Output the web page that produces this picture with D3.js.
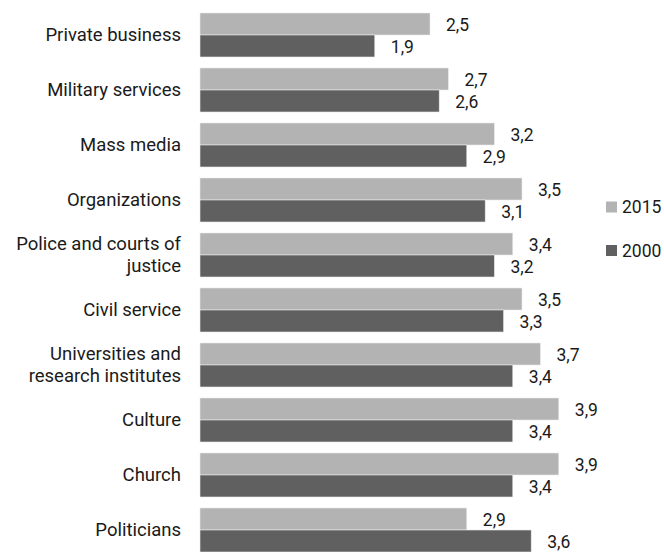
<!DOCTYPE html>
<html>
<head>
<meta charset="utf-8">
<script src="https://cdn.jsdelivr.net/npm/d3@7"></script>
<style>
  html, body { margin: 0; padding: 0; background: #fff; }
  svg text { font-family: Roboto, "Open Sans", sans-serif; fill: #1a1a1a; }
</style>
</head>
<body>
<svg id="chart" width="664" height="552"></svg>
<script>
// Trust scores by institution, two survey years
const categories = [
  "Private business",
  "Military services",
  "Mass media",
  "Organizations",
  "Police and courts of justice",
  "Civil service",
  "Universities and research institutes",
  "Culture",
  "Church",
  "Politicians"
];
const categoryLines = [
  ["Private business"],
  ["Military services"],
  ["Mass media"],
  ["Organizations"],
  ["Police and courts of", "justice"],
  ["Civil service"],
  ["Universities and", "research institutes"],
  ["Culture"],
  ["Church"],
  ["Politicians"]
];
const seriesNames = ["2015", "2000"];
const values2015 = [2.5, 2.7, 3.2, 3.5, 3.4, 3.5, 3.7, 3.9, 3.9, 2.9];
const values2000 = [1.9, 2.6, 2.9, 3.1, 3.2, 3.3, 3.4, 3.4, 3.4, 3.6];
const seriesColors = ["#b3b3b3", "#606060"];

const svg = d3.select("#chart");
const seriesValues = [values2015, values2000];
const labelSize = 18.5;
const numberSize = 17.5;

const x = d3.scaleLinear().domain([0, 1]).range([200, 292]);
const y = d3.scaleBand().domain(categories).range([7.5, 557.5])
  .paddingInner(0.2).paddingOuter(0.1);
const ySub = d3.scaleBand().domain(seriesNames).range([0, y.bandwidth()]);

const fmt = v => d3.format(".1f")(v).replace(".", ",");

const groups = svg.selectAll("g.cat")
  .data(categories)
  .join("g")
  .attr("class", "cat")
  .attr("transform", d => `translate(0,${y(d)})`);

seriesNames.forEach((s, si) => {
  groups.append("rect")
    .attr("x", x(0))
    .attr("y", ySub(s))
    .attr("width", (d, i) => x(seriesValues[si][i]) - x(0))
    .attr("height", ySub.bandwidth())
    .attr("fill", seriesColors[si])
    .attr("stroke", "#ececec")
    .attr("stroke-width", 0.6);

  groups.append("text")
    .attr("x", (d, i) => x(seriesValues[si][i]) + 16)
    .attr("y", ySub(s) + ySub.bandwidth() / 2 + 1)
    .attr("dy", "0.35em")
    .attr("font-size", numberSize)
    .text((d, i) => fmt(seriesValues[si][i]));
});

// Category labels, right-aligned against the bars
groups.append("text")
  .attr("text-anchor", "end")
  .attr("font-size", labelSize)
  .each(function(d, i) {
    const lines = categoryLines[i];
    const lh = 22;
    const mid = y.bandwidth() / 2;
    const t = d3.select(this);
    lines.forEach((ln, k) => {
      t.append("tspan")
        .attr("x", 181)
        .attr("y", mid + (k - (lines.length - 1) / 2) * lh)
        .attr("dy", "0.35em")
        .text(ln);
    });
  });

// Legend
const legend = svg.append("g");
seriesNames.forEach((s, si) => {
  const cy = 207 + si * 43.5;
  legend.append("rect")
    .attr("x", 606).attr("y", cy - 5.5)
    .attr("width", 11).attr("height", 11)
    .attr("fill", seriesColors[si]);
  legend.append("text")
    .attr("x", 622).attr("y", cy)
    .attr("dy", "0.35em")
    .attr("font-size", numberSize)
    .text(s);
});
</script>
</body>
</html>
